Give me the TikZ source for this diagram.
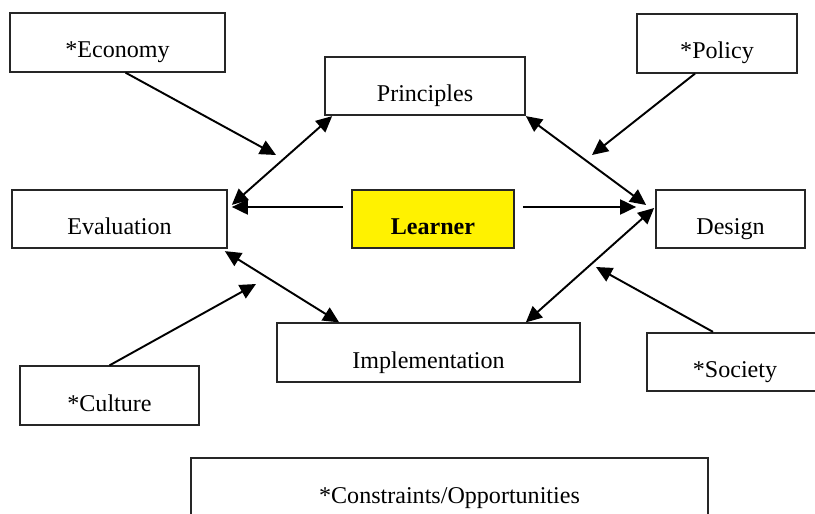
\documentclass[tikz,border=0pt]{standalone}
\usepackage{fontspec}
\setmainfont{Liberation Serif}
\usetikzlibrary{arrows.meta,calc}
\tikzset{
  box/.style={draw=black!85, line width=1pt, rectangle, inner sep=0pt,
    minimum height=1.17cm, text height=0.67cm, text depth=0.05cm,
    font=\fontsize{13.7}{16}\selectfont},
  link/.style={line width=1.1pt, -{Triangle[length=0.32cm,width=0.3cm]}},
  both/.style={line width=1.1pt, {Triangle[length=0.32cm,width=0.3cm]}-{Triangle[length=0.32cm,width=0.3cm]}}
}
\begin{document}
\begin{tikzpicture}[x=0.02cm, y=-0.02cm]
\useasboundingbox (0,0) rectangle (815,514);
\clip (0,0) rectangle (815,514);
% the cycle
\node[box, minimum width=4cm] (principles) at (425,86) {Principles};
\node[box, minimum width=4.3cm] (evaluation) at (119.5,219) {Evaluation};
\node[box, minimum width=3.24cm, fill=yellow, font=\fontsize{13.7}{16}\selectfont\bfseries] (learner) at (433,219) {Learner};
\node[box, minimum width=2.98cm] (design) at (730.5,219) {Design};
\node[box, minimum width=6.06cm] (implementation) at (428.5,352.5) {Implementation};
% outside factors
\node[box, minimum width=4.3cm] (economy) at (117.5,42.5) {*Economy};
\node[box, minimum width=3.2cm] (policy) at (717,43.5) {*Policy};
\node[box, minimum width=3.58cm] (culture) at (109.5,395.5) {*Culture};
\node[box, minimum width=3.52cm] (society) at (735,362) {*Society};
\node[box, minimum width=10.34cm, minimum height=1.2cm] (constraints) at (449.5,488) {*Constraints/Opportunities};
\coordinate (economyend) at (276,155);
\coordinate (policyend) at (592,155);
\coordinate (cultureend) at (256,284);
\coordinate (societyend) at (596,267);
% arrows
\draw[both] ($(principles.south west)+(8,0)$) -- ($(evaluation.north east)+(4,16)$);
\draw[link] ($(learner.west)+(-8,-12)$) -- ($(evaluation.east)+(4,-12)$);
\draw[both] (principles.south east) -- ($(design.west)+(-9,-14)$);
\draw[link] ($(learner.east)+(8,-12)$) -- ($(design.west)+(-19,-12)$);
\draw[both] ($(design.west)+(-1,-11)$) -- ($(implementation.north east)+(-55,0)$);
\draw[both] ($(evaluation.south east)+(-3,2)$) -- ($(implementation.north west)+(63,0)$);
\draw[link] ($(economy.south)+(8,0)$) -- (economyend);
\draw[link] ($(policy.south)+(-22,0)$) -- (policyend);
\draw[link] (culture.north) -- (cultureend);
\draw[link] ($(society.north)+(-22,0)$) -- (societyend);
\end{tikzpicture}
\end{document}
